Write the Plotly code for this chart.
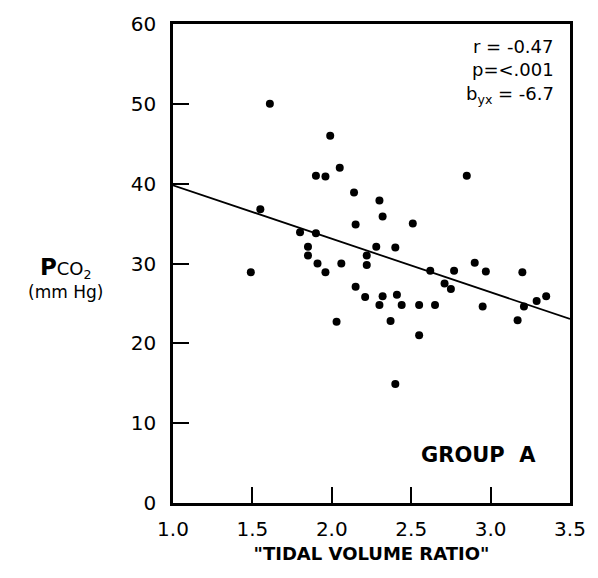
import plotly.graph_objects as go

# Data
tidal_volume_ratio = [1.61, 1.99, 1.90, 1.96, 2.05, 2.14, 2.30, 2.85,
                      2.32, 2.15, 2.51, 1.55, 1.80, 1.90, 1.85, 1.85,
                      1.91, 1.96, 2.06, 1.49, 2.28, 2.22, 2.22, 2.40,
                      2.15, 2.21, 2.32, 2.30, 2.41, 2.44, 2.55, 2.65,
                      2.03, 2.37, 2.55, 2.62, 2.71, 2.75, 2.77, 2.90,
                      2.97, 2.95, 3.20, 3.21, 3.17, 3.29, 3.35, 2.40]
pco2 = [50.0, 46.0, 41.0, 40.9, 42.0, 38.9, 37.9, 41.0,
        35.9, 34.9, 35.0, 36.8, 33.9, 33.8, 32.1, 31.0,
        30.0, 28.9, 30.0, 28.9, 32.1, 31.0, 29.8, 32.0,
        27.1, 25.8, 25.9, 24.8, 26.1, 24.8, 24.8, 24.8,
        22.7, 22.8, 21.0, 29.1, 27.5, 26.8, 29.1, 30.1,
        29.0, 24.6, 28.9, 24.6, 22.9, 25.3, 25.9, 14.9]

# Regression line end points
fit_x = [1.0, 3.5]
fit_y = [39.8, 23.05]

x_ticks = [1.0, 1.5, 2.0, 2.5, 3.0, 3.5]
x_tick_labels = ["1.0", "1.5", "2.0", "2.5", "3.0", "3.5"]
y_ticks = [0, 10, 20, 30, 40, 50, 60]
y_tick_labels = ["0", "10", "20", "30", "40", "50", "60"]

stats_lines = ["r = -0.47", "p=<.001", "b<sub>yx</sub> = -6.7"]

FONT = "DejaVu Sans"

fig = go.Figure()
fig.add_trace(go.Scatter(x=fit_x, y=fit_y, mode="lines",
                         line=dict(color="black", width=1.8),
                         showlegend=False, hoverinfo="skip"))
fig.add_trace(go.Scatter(x=tidal_volume_ratio, y=pco2, mode="markers",
                         marker=dict(color="black", size=8),
                         showlegend=False))

fig.update_layout(
    width=598, height=578,
    margin=dict(l=173, r=25, t=16, b=75),
    paper_bgcolor="white", plot_bgcolor="white",
    font=dict(family=FONT, color="black"),
    xaxis=dict(range=[1.0, 3.5], tickvals=x_ticks, ticktext=x_tick_labels,
               showgrid=False, zeroline=False, showline=True, mirror=True,
               linecolor="black", linewidth=2.5, ticks="inside", ticklen=16,
               tickwidth=2, tickcolor="black", ticklabelstandoff=6,
               tickfont=dict(family=FONT, size=20, color="black"),
               title=dict(text='"TIDAL VOLUME RATIO"',
                          font=dict(family=FONT, size=18, color="black", weight="bold"),
                          standoff=8)),
    yaxis=dict(range=[0, 60], tickvals=y_ticks, ticktext=y_tick_labels,
               showgrid=False, zeroline=False, showline=True, mirror=True,
               linecolor="black", linewidth=2.5, ticks="inside", ticklen=16,
               tickwidth=2, tickcolor="black", ticklabelstandoff=10,
               tickfont=dict(family=FONT, size=20, color="black")),
)

# Y axis title as annotation (two lines)
fig.add_annotation(xref="paper", yref="paper", x=-0.27, y=0.47,
                   xanchor="center", yanchor="middle", showarrow=False,
                   align="center",
                   text="<b><span style='font-size:23px'>P</span></b><span style='font-size:18px'>CO</span><sub>2</sub><br><span style='font-size:17px'>(mm Hg)</span>",
                   font=dict(family=FONT, size=18, color="black"))

# Stats text
stat_y = [0.953, 0.905, 0.852]
for txt, yy in zip(stats_lines, stat_y):
    fig.add_annotation(xref="paper", yref="paper", x=0.965, y=yy,
                       xanchor="right", yanchor="middle", showarrow=False,
                       text=txt, font=dict(family=FONT, size=18, color="black"))

fig.add_annotation(xref="paper", yref="paper", x=0.92, y=0.10,
                   xanchor="right", yanchor="middle", showarrow=False,
                   text="GROUP  A",
                   font=dict(family=FONT, size=21, color="black", weight="bold"))

fig.write_html("out.html")
